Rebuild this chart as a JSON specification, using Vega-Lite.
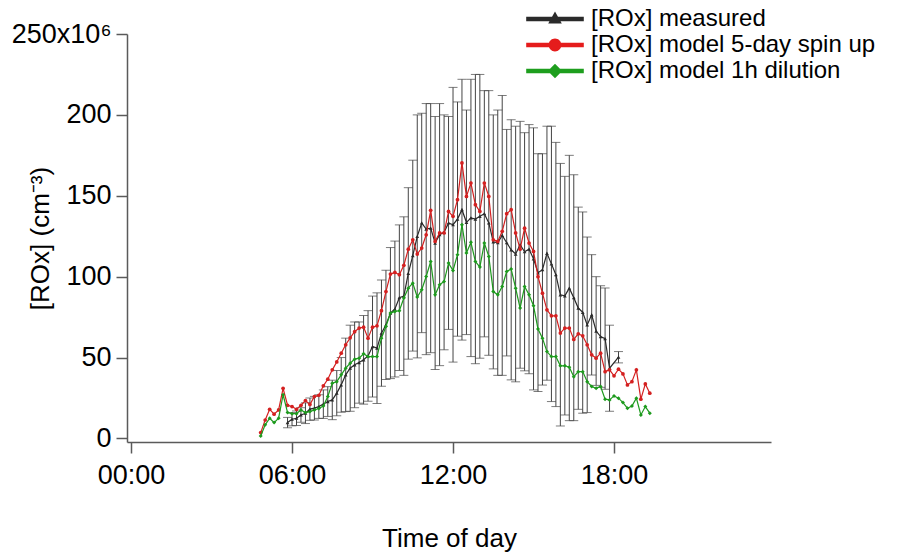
{
  "$schema": "https://vega.github.io/schema/vega-lite/v6.json",
  "width": 644,
  "height": 408,
  "autosize": {"type": "none"},
  "padding": {"left": 127, "top": 34, "right": 131, "bottom": 114},
  "config": {"view": {"stroke": null}, "font": "Liberation Sans"},
  "datasets": {
    "meas": [
      {"t":5.833,"v":9.8,"lo":6.6,"hi":13},{"t":6.0,"v":11.9,"lo":7.8,"hi":16},{"t":6.167,"v":12.5,"lo":8,"hi":17},{"t":6.333,"v":14.5,"lo":10,"hi":19},
      {"t":6.5,"v":15.6,"lo":9.2,"hi":22},{"t":6.667,"v":18.1,"lo":11.2,"hi":25},{"t":6.833,"v":18.7,"lo":11.4,"hi":26},{"t":7.0,"v":19.7,"lo":12.4,"hi":27},
      {"t":7.167,"v":21.2,"lo":12.4,"hi":30},{"t":7.333,"v":22.8,"lo":13.6,"hi":32},{"t":7.5,"v":23.8,"lo":11.6,"hi":36},{"t":7.667,"v":28,"lo":14,"hi":42},
      {"t":7.833,"v":33.1,"lo":16.2,"hi":50},{"t":8.0,"v":39.3,"lo":16.6,"hi":62},{"t":8.167,"v":43.4,"lo":16.8,"hi":70},{"t":8.333,"v":45.5,"lo":19,"hi":72},
      {"t":8.5,"v":46.9,"lo":21.8,"hi":72},{"t":8.667,"v":48.6,"lo":21.2,"hi":76},{"t":8.833,"v":51,"lo":23,"hi":79},{"t":9.0,"v":56.8,"lo":25.6,"hi":88},
      {"t":9.167,"v":55.8,"lo":21.6,"hi":90},{"t":9.333,"v":65.1,"lo":32.2,"hi":98},{"t":9.5,"v":70.2,"lo":36.4,"hi":104},{"t":9.667,"v":77.5,"lo":37,"hi":118},
      {"t":9.833,"v":80,"lo":38,"hi":122},{"t":10.0,"v":87,"lo":42,"hi":132},{"t":10.167,"v":88,"lo":39,"hi":137},{"t":10.333,"v":102,"lo":49,"hi":155},
      {"t":10.5,"v":113,"lo":54,"hi":172},{"t":10.667,"v":124.9,"lo":49.8,"hi":200},{"t":10.833,"v":133.2,"lo":65.4,"hi":201},{"t":11.0,"v":129.4,"lo":51.8,"hi":207},
      {"t":11.167,"v":130,"lo":53,"hi":207},{"t":11.333,"v":120.8,"lo":42.6,"hi":199},{"t":11.5,"v":126,"lo":45,"hi":207},{"t":11.667,"v":127.4,"lo":54.8,"hi":200},
      {"t":11.833,"v":133.2,"lo":67.4,"hi":199},{"t":12.0,"v":132.1,"lo":47.2,"hi":217},{"t":12.167,"v":135.6,"lo":63.2,"hi":208},{"t":12.333,"v":141.4,"lo":60.8,"hi":222},
      {"t":12.5,"v":133.6,"lo":64.2,"hi":203},{"t":12.667,"v":136.3,"lo":50.6,"hi":222},{"t":12.833,"v":135.6,"lo":46.2,"hi":225},{"t":13.0,"v":137.3,"lo":49.6,"hi":225},
      {"t":13.167,"v":138.9,"lo":62.8,"hi":215},{"t":13.333,"v":133.2,"lo":51.4,"hi":215},{"t":13.5,"v":121.5,"lo":43,"hi":200},{"t":13.667,"v":121,"lo":39,"hi":203},
      {"t":13.833,"v":125.5,"lo":39,"hi":212},{"t":14.0,"v":121,"lo":51,"hi":191},{"t":14.167,"v":116.6,"lo":36.2,"hi":197},{"t":14.333,"v":114,"lo":35,"hi":193},
      {"t":14.5,"v":119.7,"lo":43.4,"hi":196},{"t":14.667,"v":115.4,"lo":41.8,"hi":189},{"t":14.833,"v":117,"lo":40,"hi":194},{"t":15.0,"v":111,"lo":30,"hi":192},
      {"t":15.167,"v":102.4,"lo":29,"hi":176},{"t":15.333,"v":104.3,"lo":33,"hi":176},{"t":15.5,"v":114.4,"lo":36,"hi":193},{"t":15.667,"v":107.9,"lo":22.8,"hi":193},
      {"t":15.833,"v":101.2,"lo":19.7,"hi":183},{"t":16.0,"v":88.8,"lo":7.7,"hi":170},{"t":16.167,"v":88.1,"lo":14.5,"hi":162},{"t":16.333,"v":92.9,"lo":11,"hi":175},
      {"t":16.5,"v":87,"lo":11,"hi":163},{"t":16.667,"v":80.6,"lo":18,"hi":143},{"t":16.833,"v":78,"lo":15.6,"hi":140},{"t":17.0,"v":70.2,"lo":16,"hi":124.5},
      {"t":17.167,"v":76.4,"lo":39.2,"hi":113.6},{"t":17.333,"v":66.4,"lo":32.8,"hi":100},{"t":17.5,"v":63,"lo":31.6,"hi":94.4},{"t":17.667,"v":61.7,"lo":30.4,"hi":93},
      {"t":17.833,"v":43.4,"lo":16.8,"hi":70},{"t":18.167,"v":50.2,"lo":46.7,"hi":53.7}
    ],
    "red": [
      {"t":4.833,"v":3.6},{"t":5.0,"v":11.4},{"t":5.167,"v":18},{"t":5.333,"v":15},{"t":5.5,"v":17.6},{"t":5.667,"v":31},{"t":5.833,"v":20.5},{"t":6.0,"v":19.7},
      {"t":6.167,"v":18},{"t":6.333,"v":20.5},{"t":6.5,"v":23.4},{"t":6.667,"v":21},{"t":6.833,"v":25.9},{"t":7.0,"v":26.7},{"t":7.167,"v":32.5},{"t":7.333,"v":36.6},
      {"t":7.5,"v":42.4},{"t":7.667,"v":47.3},{"t":7.833,"v":52.7},{"t":8.0,"v":57.9},{"t":8.167,"v":62.2},{"t":8.333,"v":66},{"t":8.5,"v":68.2},{"t":8.667,"v":68.8},
      {"t":8.833,"v":62},{"t":9.0,"v":68.8},{"t":9.167,"v":69.6},{"t":9.333,"v":79},{"t":9.5,"v":90.8},{"t":9.667,"v":101.6},{"t":9.833,"v":102.6},{"t":10.0,"v":101.2},
      {"t":10.167,"v":107},{"t":10.333,"v":117},{"t":10.5,"v":122.8},{"t":10.667,"v":114},{"t":10.833,"v":117.7},{"t":11.0,"v":125.9},{"t":11.167,"v":141},{"t":11.333,"v":121.8},
      {"t":11.5,"v":127},{"t":11.667,"v":127},{"t":11.833,"v":140.3},{"t":12.0,"v":137.3},{"t":12.167,"v":147.6},{"t":12.333,"v":170.3},{"t":12.5,"v":149.6},{"t":12.667,"v":157.9},
      {"t":12.833,"v":144.5},{"t":13.0,"v":140.3},{"t":13.167,"v":157.9},{"t":13.333,"v":149.6},{"t":13.5,"v":122.8},{"t":13.667,"v":121.8},{"t":13.833,"v":128},{"t":14.0,"v":138.9},
      {"t":14.167,"v":141.4},{"t":14.333,"v":127},{"t":14.5,"v":117},{"t":14.667,"v":130},{"t":14.833,"v":120.8},{"t":15.0,"v":115.6},{"t":15.167,"v":100},{"t":15.333,"v":89.8},
      {"t":15.5,"v":79.5},{"t":15.667,"v":75.8},{"t":15.833,"v":75.8},{"t":16.0,"v":65.1},{"t":16.167,"v":68.2},{"t":16.333,"v":68.2},{"t":16.5,"v":61.2},{"t":16.667,"v":64.7},
      {"t":16.833,"v":63.4},{"t":17.0,"v":57.9},{"t":17.167,"v":51.7},{"t":17.333,"v":49.6},{"t":17.5,"v":52.7},{"t":17.667,"v":41.3},{"t":17.833,"v":42.4},{"t":18.0,"v":38.7},
      {"t":18.167,"v":42.8},{"t":18.333,"v":39.9},{"t":18.5,"v":33.1},{"t":18.667,"v":35.1},{"t":18.833,"v":42.4},{"t":19.0,"v":24.3},{"t":19.167,"v":33.7},{"t":19.333,"v":28}
    ],
    "green": [
      {"t":4.833,"v":1.5},{"t":5.0,"v":8.4},{"t":5.167,"v":12.5},{"t":5.333,"v":9.8},{"t":5.5,"v":12.5},{"t":5.667,"v":27},{"t":5.833,"v":16},{"t":6.0,"v":15.3},
      {"t":6.167,"v":15.3},{"t":6.333,"v":17.6},{"t":6.5,"v":16},{"t":6.667,"v":16.6},{"t":6.833,"v":17.6},{"t":7.0,"v":18.5},{"t":7.167,"v":20},{"t":7.333,"v":25.9},
      {"t":7.5,"v":34.1},{"t":7.667,"v":35.1},{"t":7.833,"v":39.3},{"t":8.0,"v":43.4},{"t":8.167,"v":46.5},{"t":8.333,"v":49},{"t":8.5,"v":49.6},{"t":8.667,"v":52.3},
      {"t":8.833,"v":50.6},{"t":9.0,"v":50.6},{"t":9.167,"v":50.6},{"t":9.333,"v":62},{"t":9.5,"v":69.2},{"t":9.667,"v":77.5},{"t":9.833,"v":78.5},{"t":10.0,"v":78.9},
      {"t":10.167,"v":86.8},{"t":10.333,"v":92.9},{"t":10.5,"v":96},{"t":10.667,"v":87.4},{"t":10.833,"v":91.9},{"t":11.0,"v":100.1},{"t":11.167,"v":109.4},{"t":11.333,"v":88.8},
      {"t":11.5,"v":95},{"t":11.667,"v":97},{"t":11.833,"v":108.4},{"t":12.0,"v":103.8},{"t":12.167,"v":113.6},{"t":12.333,"v":132.1},{"t":12.5,"v":114.6},{"t":12.667,"v":121.2},
      {"t":12.833,"v":109.4},{"t":13.0,"v":105.9},{"t":13.167,"v":120.8},{"t":13.333,"v":112.5},{"t":13.5,"v":90.8},{"t":13.667,"v":88.8},{"t":13.833,"v":93.9},{"t":14.0,"v":103.2},
      {"t":14.167,"v":104.7},{"t":14.333,"v":92.9},{"t":14.5,"v":80.6},{"t":14.667,"v":93.9},{"t":14.833,"v":88.8},{"t":15.0,"v":82},{"t":15.167,"v":67.6},{"t":15.333,"v":62},
      {"t":15.5,"v":53.7},{"t":15.667,"v":50.6},{"t":15.833,"v":50.6},{"t":16.0,"v":44.9},{"t":16.167,"v":44.9},{"t":16.333,"v":44},{"t":16.5,"v":38.2},{"t":16.667,"v":41.3},
      {"t":16.833,"v":41.3},{"t":17.0,"v":35.1},{"t":17.167,"v":32.1},{"t":17.333,"v":31},{"t":17.5,"v":32.1},{"t":17.667,"v":24.3},{"t":17.833,"v":23.8},{"t":18.0,"v":26.3},
      {"t":18.167,"v":24.9},{"t":18.333,"v":22.2},{"t":18.5,"v":18.7},{"t":18.667,"v":20.1},{"t":18.833,"v":24.9},{"t":19.0,"v":14.5},{"t":19.167,"v":19.7},{"t":19.333,"v":15.6}
    ],
    "keys": [
      {"t":12,"v":100,"series":"[ROx] measured"},
      {"t":12,"v":100,"series":"[ROx] model 5-day spin up"},
      {"t":12,"v":100,"series":"[ROx] model 1h dilution"}
    ]
  },
  "encoding": {
    "x": {
      "field": "t", "type": "quantitative",
      "scale": {"domain": [-0.15, 23.85], "nice": false, "zero": false},
      "axis": {
        "title": "Time of day", "values": [0, 6, 12, 18],
        "labelExpr": "format(datum.value, '02d') + ':00'",
        "grid": false, "domainColor": "#5a5a5a", "domainWidth": 1.5, "tickColor": "#5a5a5a", "tickWidth": 1.5, "tickSize": 11,
        "labelFontSize": 27, "labelColor": "#000", "labelPadding": 9, "labelFont": "Liberation Sans",
        "titleFontSize": 26, "titleFontWeight": "normal", "titleColor": "#000", "titleFont": "Liberation Sans",
        "titleX": 322, "titleY": 96, "titleBaseline": "middle", "titleAlign": "center"
      }
    },
    "y": {
      "field": "v", "type": "quantitative",
      "scale": {"domain": [-2.2, 250], "nice": false, "zero": false},
      "axis": {
        "title": "[ROx] (cm⁻³)", "values": [0, 50, 100, 150, 200, 250],
        "labelExpr": "datum.value == 250 ? '250x10⁶' : datum.label",
        "grid": false, "domainColor": "#5a5a5a", "domainWidth": 1.5, "tickColor": "#5a5a5a", "tickWidth": 1.5, "tickSize": 11,
        "labelFontSize": 27, "labelColor": "#000", "labelPadding": 5, "labelFont": "Liberation Sans",
        "titleFontSize": 26, "titleFontWeight": "normal", "titleColor": "#000", "titleFont": "Liberation Sans",
        "titleX": -87, "titleY": 204, "titleAngle": -90, "titleBaseline": "middle", "titleAlign": "center"
      }
    }
  },
  "layer": [
    {
      "data": {"name": "meas"},
      "mark": {"type": "rule", "color": "#444444", "strokeWidth": 1},
      "encoding": {"y": {"field": "lo", "type": "quantitative"}, "y2": {"field": "hi"}}
    },
    {
      "data": {"name": "meas"},
      "mark": {"type": "tick", "orient": "horizontal", "color": "#444444", "size": 9, "thickness": 1},
      "encoding": {"y": {"field": "hi", "type": "quantitative"}}
    },
    {
      "data": {"name": "meas"},
      "mark": {"type": "tick", "orient": "horizontal", "color": "#444444", "size": 9, "thickness": 1},
      "encoding": {"y": {"field": "lo", "type": "quantitative"}}
    },
    {
      "data": {"name": "meas"},
      "mark": {"type": "line", "color": "#2a2a2a", "strokeWidth": 1.2,
               "point": {"shape": "triangle-up", "size": 14, "filled": true, "color": "#2a2a2a", "opacity": 1}}
    },
    {
      "data": {"name": "red"},
      "mark": {"type": "line", "color": "#d42020", "strokeWidth": 1.2,
               "point": {"shape": "circle", "size": 14, "filled": true, "color": "#d42020", "opacity": 1}}
    },
    {
      "data": {"name": "green"},
      "mark": {"type": "line", "color": "#1d9a1d", "strokeWidth": 1.2,
               "point": {"shape": "diamond", "size": 16, "filled": true, "color": "#1d9a1d", "opacity": 1}}
    },
    {
      "data": {"name": "keys"},
      "mark": {"type": "point", "filled": true, "opacity": 0},
      "encoding": {
        "color": {
          "field": "series", "type": "nominal",
          "scale": {"domain": ["[ROx] measured", "[ROx] model 5-day spin up", "[ROx] model 1h dilution"],
                    "range": ["#2a2a2a", "#e51c1c", "#1e9e1e"]},
          "legend": {
            "title": null, "orient": "none", "legendX": 396, "legendY": -27, "padding": 0,
            "symbolSize": 256, "symbolOffset": 20, "labelOffset": 24, "symbolOpacity": 1,
            "labelFontSize": 24, "labelFont": "Liberation Sans", "labelColor": "#000", "rowPadding": 2, "labelLimit": 400
          }
        },
        "shape": {
          "field": "series", "type": "nominal",
          "scale": {"domain": ["[ROx] measured", "[ROx] model 5-day spin up", "[ROx] model 1h dilution"],
                    "range": [
                      "M-3.6,-0.28H3.6V0.28H-3.6Z M0,-0.95L0.85,0.55L-0.85,0.55Z",
                      "M-3.6,-0.28H3.6V0.28H-3.6Z M0.8,0A0.8,0.8 0 1,1 -0.8,0A0.8,0.8 0 1,1 0.8,0Z",
                      "M-3.6,-0.28H3.6V0.28H-3.6Z M0,-0.9L0.9,0L0,0.9L-0.9,0Z"
                    ]},
          "legend": {
            "title": null, "orient": "none", "legendX": 396, "legendY": -27, "padding": 0,
            "symbolSize": 256, "symbolOffset": 20, "labelOffset": 24, "symbolOpacity": 1,
            "labelFontSize": 24, "labelFont": "Liberation Sans", "labelColor": "#000", "rowPadding": 2, "labelLimit": 400
          }
        }
      }
    }
  ]
}
